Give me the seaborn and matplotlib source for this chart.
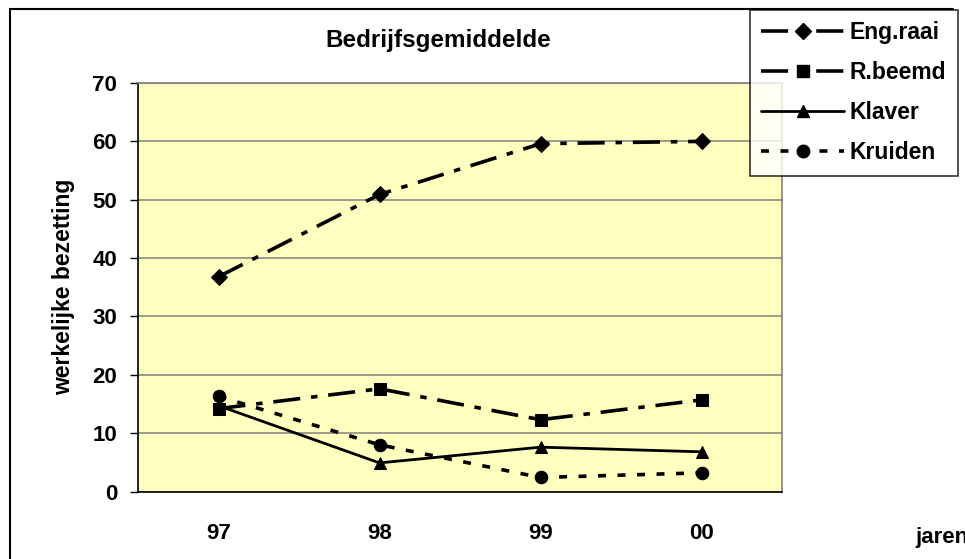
"""Bedrijfsgemiddelde: werkelijke bezetting per soort, jaren 97-00."""
import pandas as pd
import matplotlib
matplotlib.use("Agg")
import matplotlib.pyplot as plt
from matplotlib.lines import Line2D
import seaborn as sns

JAREN = ["97", "98", "99", "00"]
ENG_RAAI = [36.8, 50.9, 59.6, 60.0]
R_BEEMD = [14.2, 17.6, 12.3, 15.7]
KLAVER = [14.7, 4.9, 7.6, 6.8]
KRUIDEN = [16.3, 8.0, 2.4, 3.2]
SERIES = ["Eng.raai", "R.beemd", "Klaver", "Kruiden"]

# per serie: marker, dash pattern (in linewidths), linewidth, markersize
STYLE = {
    "Eng.raai": ("D", (7.5, 3, 1.8, 3), 2.6, 8),
    "R.beemd": ("s", (7.5, 3, 1.8, 3), 2.6, 9),
    "Klaver": ("^", "", 2.0, 9),
    "Kruiden": ("o", (2.2, 3.2), 2.6, 9),
}

df = pd.DataFrame({
    "x": list(range(len(JAREN))) * 4,
    "waarde": ENG_RAAI + R_BEEMD + KLAVER + KRUIDEN,
    "serie": [s for s in SERIES for _ in JAREN],
})

sns.set_theme(style="white")
plt.rcParams["font.family"] = ["Liberation Sans", "DejaVu Sans"]
plt.rcParams["font.weight"] = "bold"
for k in ["text.color", "axes.labelcolor", "xtick.color", "ytick.color"]:
    plt.rcParams[k] = "black"

fig = plt.figure(figsize=(9.65, 5.59), dpi=100)
ax = fig.add_axes([138 / 965, 1 - 491.5 / 559, 644 / 965, (491.5 - 83) / 559])
ax.set_facecolor("#FFFFC0")

for s in SERIES:
    mk, dash, lw, ms = STYLE[s]
    sns.lineplot(data=df[df.serie == s], x="x", y="waarde", style="serie",
                 markers={s: mk}, dashes={s: dash}, color="black", lw=lw,
                 markersize=ms, markeredgecolor="black", legend=False, ax=ax,
                 zorder=3)

ax.set_xlim(-0.5, len(JAREN) - 0.5)
ax.set_ylim(0, 70)
ax.set_yticks(range(0, 71, 10))
ax.yaxis.grid(True, color="#808080", lw=1.1)
ax.set_axisbelow(True)
ax.set_xticks(range(len(JAREN)))
ax.set_xticklabels(JAREN)
ax.set_xticks([i - 0.5 for i in range(len(JAREN) + 1)], minor=True)
ax.tick_params(axis="x", which="major", length=0, pad=23, labelsize=16)
ax.tick_params(axis="x", which="minor", length=6, width=1, color="black",
               direction="out")
ax.tick_params(axis="y", length=6, width=1, color="black", direction="out",
               pad=9, labelsize=16, left=True)
ax.set_xlabel("")
ax.set_ylabel("")
for side in ["left", "bottom"]:
    ax.spines[side].set_color("black")
    ax.spines[side].set_linewidth(1.2)
for side in ["top", "right"]:
    ax.spines[side].set_color("#808080")
    ax.spines[side].set_linewidth(1.2)

fig.text(438 / 965, 1 - 40 / 559, "Bedrijfsgemiddelde", ha="center",
         va="center", fontsize=17.5, fontweight="bold")
fig.text(64 / 965, 1 - 287 / 559, "werkelijke bezetting", rotation=90,
         ha="center", va="center", fontsize=16.5, fontweight="bold")
fig.text(915 / 965, 1 - 538 / 559, "jaren", ha="left", va="center",
         fontsize=16, fontweight="bold")

# outer chart frame (top and left edges visible)
fig.add_artist(Line2D([10 / 965, 953 / 965], [1 - 9 / 559, 1 - 9 / 559],
                      transform=fig.transFigure, color="black", lw=1.5))
fig.add_artist(Line2D([10 / 965, 10 / 965], [1 - 9 / 559, 0],
                      transform=fig.transFigure, color="black", lw=1.5))

handles = []
for s in SERIES:
    mk, dash, lw, ms = STYLE[s]
    h = Line2D([], [], color="black", marker=mk, lw=lw, markersize=ms)
    if dash:
        h.set_dashes(dash)
    handles.append(h)
leg = fig.legend(handles, SERIES, loc="upper left",
                 bbox_to_anchor=(750 / 965, 1 - 10 / 559),
                 bbox_transform=fig.transFigure, frameon=True, fancybox=False,
                 edgecolor="black", handlelength=3.6, handletextpad=0.25,
                 labelspacing=0.74, borderpad=0.5, borderaxespad=0,
                 prop={"size": 16.5, "weight": "bold"})
leg.get_frame().set_linewidth(1.2)

fig.savefig("out.png", dpi=100)
